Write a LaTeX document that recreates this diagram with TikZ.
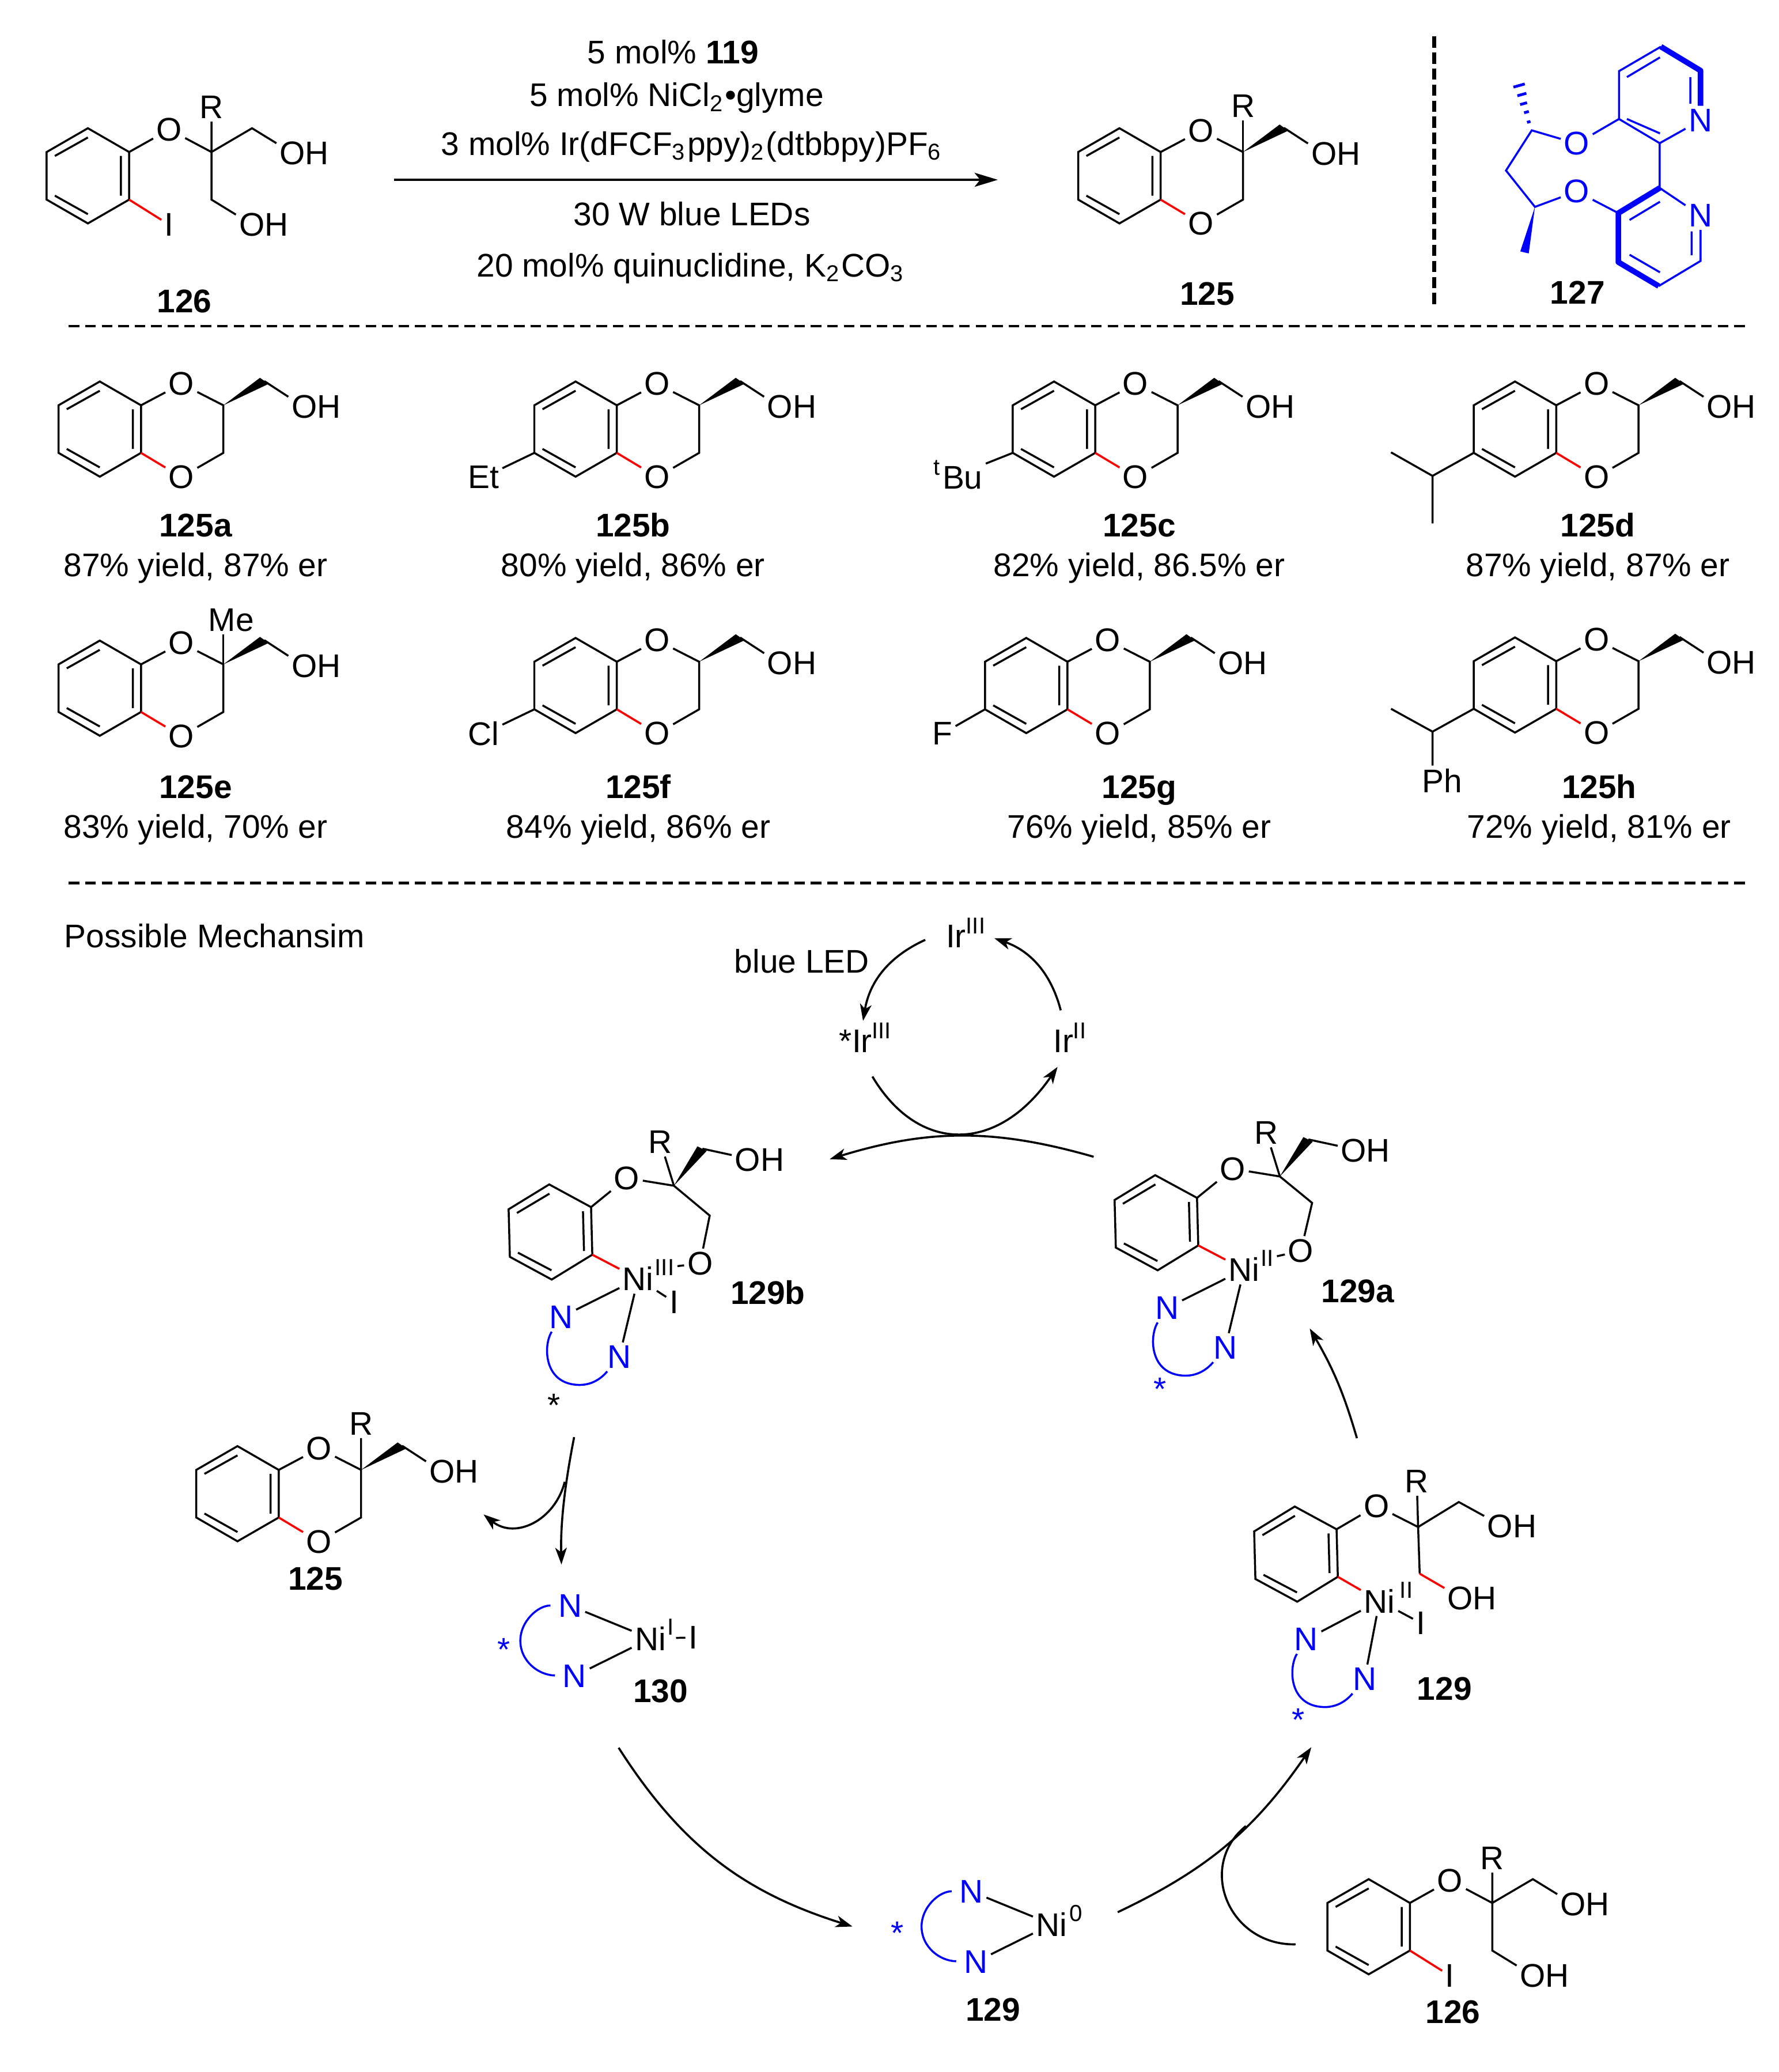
\documentclass[tikz,border=0pt]{standalone}
\usepackage{fontspec}
\setmainfont{Liberation Sans}
\usepackage{tikz}
\usetikzlibrary{calc,arrows.meta}

\tikzset{
  bond/.style={line width=.43pt},
  redbond/.style={line width=.45pt,red},
  bluebond/.style={line width=.43pt,blue},
  boldbond/.style={line width=1.2pt,blue},
  atom/.style={inner sep=.5pt},
  blueatom/.style={inner sep=.5pt,text=blue},
  ast/.style={inner sep=0pt},
  lab/.style={inner sep=0pt,anchor=base,font=\fontsize{7.05}{8.4}\selectfont\bfseries},
  txt/.style={inner sep=0pt,anchor=base},
  ox/.style={inner sep=.5pt,anchor=west,font=\fontsize{5}{6}\selectfont},
  sepline/.style={line width=.5pt,dash pattern=on 2.3pt off 1.25pt},
  rxnarrow/.style={line width=.5pt,-{Stealth[length=5pt,width=3pt,inset=1.2pt]}},
  curvearrow/.style={line width=.45pt,-{Stealth[length=3.6pt,width=2.5pt,inset=1pt]}}
}

% benzene ring, a1 is the top atom
\newcommand{\arene}[2]{
  \begin{scope}[shift={#1},rotate=#2]
    \coordinate (a1) at (0,-36);
    \coordinate (a2) at (-31.2,-18);
    \coordinate (a3) at (-31.2,18);
    \coordinate (a4) at (0,36);
    \coordinate (a5) at (31.2,18);
    \coordinate (a6) at (31.2,-18);
    \draw[bond] (a1) -- (a2) -- (a3) -- (a4) -- (a5) -- (a6) -- cycle;
    \draw[bond] (0,-29) -- (-25,-15) (25,-15) -- (25,15) (-25,15) -- (0,29);
  \end{scope}
}

% benzodioxane with the CH2OH wedge
\newcommand{\dioxane}[1]{
  \arene{#1}{0}
  \begin{scope}[shift={#1}]
    \node[atom] (o1) at (61.7,-34.2) {O};
    \node[atom] (o2) at (61.7,36.3) {O};
    \node[atom] (oh) at (163.7,-16.8) {OH};
    \coordinate (cq) at (93.5,-18);
    \coordinate (ch2) at (93.5,18);
    \coordinate (ch) at (124.5,-36.3);
    \fill (cq) -- (121.2,-38.8) -- (127.8,-34.2) -- cycle;
    \draw[bond] (a6) -- (o1) -- (cq) -- (ch2) -- (o2);
    \draw[bond] (ch) -- (oh.160);
    \draw[redbond] (a5) -- (o2);
  \end{scope}
}

% open diol, the iodide
\newcommand{\diol}[1]{
  \arene{#1}{0}
  \begin{scope}[shift={#1}]
    \node[atom] (o1) at (61.5,-35) {O};
    \node[atom] (r) at (93.5,-52) {R};
    \node[atom] (oh) at (163.7,-17) {OH};
    \node[atom] (oh2) at (133,37) {OH};
    \node[atom] (i) at (61.5,37) {I};
    \coordinate (cq) at (93.5,-18);
    \coordinate (ch) at (124.2,-36);
    \coordinate (ch2) at (93.5,18);
    \draw[bond] (a6) -- (o1) -- (cq) -- (r);
    \draw[bond] (cq) -- (ch) -- (oh.160);
    \draw[bond] (cq) -- (ch2) -- (oh2.160);
    \draw[redbond] (a5) -- (i);
  \end{scope}
}

% N,N ligand below a metal, origin on the first N
\newcommand{\ligand}[1]{
  \begin{scope}[shift={#1}]
    \node[blueatom] (n1) at (0,0) {N};
    \node[blueatom] (n2) at (44.1,30) {N};
    \draw[bluebond] (n1) .. controls (-13.5,21) and (-13.5,51) .. (14,51.2)
      .. controls (23.5,51.2) and (30.5,46.3) .. (n2);
  \end{scope}
}

% N,N ligand left of a metal, origin on Ni
\newcommand{\nizero}[1]{
  \begin{scope}[shift={#1}]
    \node[atom] (ni) at (0,0) {Ni};
    \node[blueatom] (n1) at (-60.7,-24.8) {N};
    \node[blueatom] (n2) at (-57.3,28.4) {N};
    \draw[bond] (ni) -- (n1);
    \draw[bond] (ni) -- (n2);
    \draw[bluebond,shorten <=1pt,shorten >=1pt] (n1) .. controls (-85,-25) and (-98.4,-13) .. (-98.4,1.7)
      .. controls (-98.4,17) and (-85,27.7) .. (n2);
  \end{scope}
}

% seven membered chelate, #2 is CH2 and #3 is the O on Ni
\newcommand{\oxepin}[4]{
  \arene{#1}{1.5}
  \begin{scope}[shift={#1}]
    \node[atom] (o1) at (57.8,-40.8) {O};
    \node[atom] (r) at (83.2,-68) {R};
    \node[atom] (oh) at (158.2,-54.5) {OH};
    \node[atom] (o2) at #3 {O};
    \node[atom] (ni) at (66.3,35.3) {Ni};
    \node[ox] (oxs) at (76.5,27) {#4};
    \coordinate (cq) at (93.4,-35);
    \coordinate (ch) at (115,-63);
    \coordinate (ch2) at #2;
    \fill (cq) -- (111.2,-64.8) -- (118.2,-61.3) -- cycle;
    \draw[bond] (a6) -- (o1) -- (cq) -- (r);
    \draw[bond] (cq) -- (ch2) -- (o2) -- (oxs);
    \draw[bond] (ch) -- (oh.170);
    \draw[redbond] (a5) -- (ni);
    \ligand{(8,64.5)}
    \draw[bond] (ni) -- (n1);
    \draw[bond] (ni) -- (n2);
  \end{scope}
}

\begin{document}
\begin{tikzpicture}[x=0.1mm,y=-0.1mm,every node/.style={font=\fontsize{7.05}{8.4}\selectfont}]
  \useasboundingbox (0,0) rectangle (1346,1567.5);

  % top reaction
  \diol{(66.5,133)}
  \node[lab] (l126) at (139.5,236.5) {126};
  \coordinate (rs) at (298,136);
  \coordinate (re) at (755,136);
  \draw[rxnarrow] (rs) -- (re);
  \node[txt] (c1) at (509.3,48) {5 mol\% \textbf{119}};
  \node[txt] (c2) at (512,80.5) {5 mol\% NiCl\textsubscript{2}•glyme};
  \node[txt] (c3) at (523.7,117.5) {3 mol\% Ir(dFCF\textsubscript{3}ppy)\textsubscript{2}(dtbbpy)PF\textsubscript{6}};
  \node[txt] (c4) at (523.6,170.5) {30 W blue LEDs};
  \node[txt] (c5) at (523,209.5) {20 mol\% quinuclidine, K\textsubscript{2}CO\textsubscript{3}};
  \dioxane{(847,133)}
  \node[atom] (r) at (940.5,80) {R};
  \draw[bond] (cq) -- (r);
  \node[lab] (l125) at (913.4,231) {125};

  \draw[line width=.85pt,dash pattern=on 2.4pt off 1.05pt] (1085,27.6) -- (1085,231);

  % ligand
  \coordinate (u1) at (1256.7,35.3);
  \coordinate (u2) at (1286.7,53.4);
  \node[blueatom] (nu) at (1286.7,91) {N};
  \coordinate (u3) at (1255.8,108.3);
  \coordinate (u4) at (1225,90);
  \coordinate (u5) at (1225,53.8);
  \node[blueatom] (ou) at (1193,108.6) {O};
  \node[blueatom] (ol) at (1193,144.8) {O};
  \coordinate (cu) at (1159,98.6);
  \coordinate (cm) at (1139.5,129);
  \coordinate (cl) at (1161.4,156.5);
  \coordinate (l0) at (1255.8,142.2);
  \node[blueatom] (nl) at (1286.7,163) {N};
  \coordinate (l2) at (1286.7,197.4);
  \coordinate (l3) at (1255,216.4);
  \coordinate (l4) at (1224.5,198.3);
  \coordinate (l1) at (1224.5,161.2);
  \draw[bluebond] (nu) -- (u3) -- (u4) -- (u5) -- (u1);
  \draw[bluebond] (u4) -- (ou) -- (cu) -- (cm) -- (cl) -- (ol) -- (l1);
  \draw[bluebond] (u3) -- (l0) -- (nl) -- (l2) -- (l3);
  \draw[boldbond,line join=round] (u1) -- (u2) -- (nu);
  \draw[boldbond,line join=round] (l0) -- (l1) -- (l4) -- (l3);
  \draw[bluebond] (1231,58.3) -- (1256,43.4) (1279,58.3) -- (1279,78.4) (1231,90) -- (1256,100.9);
  \draw[bluebond] (1233,166.4) -- (1256,152.6) (1233,192.7) -- (1256,206) (1280,175) -- (1280,193);
  \fill[blue] (cl) -- (1150.3,190.2) -- (1156.7,191.7) -- cycle;
  \foreach \x/\y/\w in {1156.7/92.2/1.3,1155/84.8/1.8,1152.8/78.4/2.6,1151.5/71.5/3.4,1149.4/64.7/4.3}
    \draw[blue,line width=.6pt] (\x-\w,\y+.28*\w) -- (\x+\w,\y-.28*\w);
  \node[lab] (l127) at (1193.6,230) {127};

  \draw[sepline] (52,246.5) -- (1322,246.5);

  % products
  \dioxane{(75.5,324.6)}
  \dioxane{(435.5,324.6)}
  \node[atom] (et) at (366,361) {Et};
  \draw[bond] (a3) -- (et);
  \dioxane{(797.5,324.6)}
  \node[atom] (tbu) at (725,359) {\textsuperscript{t}Bu};
  \draw[bond] (a3) -- (tbu);
  \dioxane{(1146.3,324.6)}
  \coordinate (cp) at (1083.9,360);
  \coordinate (m1) at (1052.5,342.2);
  \coordinate (m2) at (1083.9,396);
  \draw[bond] (a3) -- (cp) -- (m1) (cp) -- (m2);

  \dioxane{(75.5,520.6)}
  \node[atom] (me) at (175,469) {Me};
  \draw[bond] (cq) -- (cq |- me.south);
  \dioxane{(435.5,518.6)}
  \node[atom] (cl1) at (366,555) {Cl};
  \draw[bond] (a3) -- (cl1);
  \dioxane{(776.5,518.6)}
  \node[atom] (fl) at (713,555) {F};
  \draw[bond] (a3) -- (fl);
  \dioxane{(1146.3,518.2)}
  \coordinate (cp) at (1083.9,553.5);
  \coordinate (m1) at (1052.5,536.2);
  \node[atom] (ph) at (1091,590.6) {Ph};
  \draw[bond] (a3) -- (cp) -- (m1) (cp) -- (cp |- ph.north);

  \foreach \x/\y/\name/\res in {148/406/125a/{87\% yield, 87\% er},479/406/125b/{80\% yield, 86\% er},
      862/406/125c/{82\% yield, 86.5\% er},1209/406/125d/{87\% yield, 87\% er},
      148/604/125e/{83\% yield, 70\% er},483/604/125f/{84\% yield, 86\% er},
      862/604/125g/{76\% yield, 85\% er},1210/604/125h/{72\% yield, 81\% er}}{
    \node[lab] (l\name) at (\x,\y) {\name};
    \node[txt] (y\name) at (\x,\y+30) {\res};
  }

  \draw[sepline] (52,668) -- (1322,668);

  % mechanism
  \node[txt,anchor=base west] (mech) at (48,717) {Possible Mechansim};
  \node[txt] (ir3) at (731.5,717) {Ir\textsuperscript{III}};
  \node[txt] (led) at (606.7,736) {blue LED};
  \node[txt] (ir3s) at (655.6,796.2) {*Ir\textsuperscript{III}};
  \node[txt] (ir2) at (810.2,796.2) {Ir\textsuperscript{II}};
  \coordinate (p1) at (700.1,711);
  \coordinate (p2) at (653,772.3);
  \coordinate (p3) at (802.6,764.3);
  \coordinate (p4) at (752.4,709.8);
  \coordinate (p5) at (660.1,814.4);
  \coordinate (p6) at (800.2,807.1);
  \coordinate (p7) at (827.5,875.1);
  \coordinate (p8) at (627.8,876.9);
  \draw[curvearrow] (p1) to[bend right=28] (p2);
  \draw[curvearrow] (p3) to[bend right=28] (p4);
  \draw[curvearrow] (p5) .. controls (695,873) and (755,873) .. (p6);
  \draw[curvearrow] (p7) to[bend right=16.5] (p8);

  \oxepin{(416.5,932)}{(120.5,-12.4)}{(113.2,23.8)}{III}
  \node[atom] (i) at (510,985) {I};
  \draw[bond] (ni) -- (i);
  \node[ast] (sb) at (419.2,1063) {*};
  \node[lab] (l129b) at (581,986.7) {129b};

  \oxepin{(875,925)}{(117.8,-15)}{(109.3,21.3)}{II}
  \node[ast,text=blue] (sa) at (877.6,1051) {*};
  \node[lab] (l129a) at (1027.3,985.3) {129a};

  % 129 on the right
  \arene{(980.6,1175.7)}{1.5}
  \node[atom] (o1) at (1041.5,1139.2) {O};
  \node[atom] (r) at (1072,1120.6) {R};
  \node[atom] (oh) at (1144,1154.5) {OH};
  \node[atom] (oh2) at (1113.9,1209) {OH};
  \node[atom] (ni) at (1043.8,1211.1) {Ni};
  \node[ox] (oxs) at (1056.7,1203.1) {II};
  \node[atom] (i) at (1075,1227.8) {I};
  \coordinate (cq) at (1073,1155.2);
  \coordinate (ch) at (1103.8,1136.3);
  \coordinate (ch2) at (1074.2,1190.5);
  \draw[bond] (a6) -- (o1) -- (cq) -- (r);
  \draw[bond] (cq) -- (ch) -- (oh.160);
  \draw[bond] (cq) -- (ch2);
  \draw[redbond] (ch2) -- (oh2.160);
  \draw[redbond] (a5) -- (ni);
  \draw[bond] (ni) -- (i);
  \ligand{(988.4,1240.2)}
  \draw[bond] (ni) -- (n1);
  \draw[bond] (ni) -- (n2);
  \node[ast,text=blue] (sc) at (982.5,1301) {*};
  \node[lab] (l129) at (1092.9,1286) {129};

  \dioxane{(179.7,1130)}
  \node[atom] (r) at (273.2,1077) {R};
  \draw[bond] (cq) -- (r);
  \node[lab] (l125m) at (238.7,1202.8) {125};

  \nizero{(492.1,1239.5)}
  \node[ox] (oxs) at (502.5,1231) {I};
  \node[atom] (i) at (524.5,1238.8) {I};
  \draw[bond,shorten <=1.5pt] (ni) -- (i);
  \node[ast,text=blue] (sd) at (381.4,1248) {*};
  \node[lab] (l130) at (499.8,1288) {130};

  \nizero{(795.7,1455.7)}
  \node[ox] (oxs) at (807,1447.5) {0};
  \node[ast,text=blue] (se) at (679,1462.5) {*};
  \node[lab] (l129n) at (751.4,1529) {129};

  \diol{(1035.6,1457.6)}
  \node[lab] (l126m) at (1099.3,1530.6) {126};

  % cycle arrows
  \coordinate (q1) at (434.4,1087.2);
  \coordinate (q2) at (424.8,1183.5);
  \coordinate (q3) at (427.3,1121);
  \coordinate (q4) at (365.9,1145.7);
  \coordinate (q5) at (468.1,1322.2);
  \coordinate (q6) at (645,1457.4);
  \coordinate (q7) at (845.7,1446.6);
  \coordinate (q8) at (992.2,1321.8);
  \coordinate (q9) at (980.3,1470.9);
  \coordinate (q10) at (942.7,1381.4);
  \coordinate (q11) at (1026.7,1088);
  \coordinate (q12) at (991,1005);
  \draw[curvearrow] (q1) .. controls (428,1120) and (424,1150) .. (q2);
  \draw[curvearrow] (q3) .. controls (420,1150) and (390,1165) .. (q4);
  \draw[curvearrow] (q5) to[bend right=20] (q6);
  \draw[curvearrow] (q7) to[bend right=15] (q8);
  \draw[line width=.45pt] (q9) .. controls (930,1472) and (905,1412) .. (q10);
  \draw[curvearrow] (q11) to[bend right=7] (q12);
\end{tikzpicture}
\end{document}
